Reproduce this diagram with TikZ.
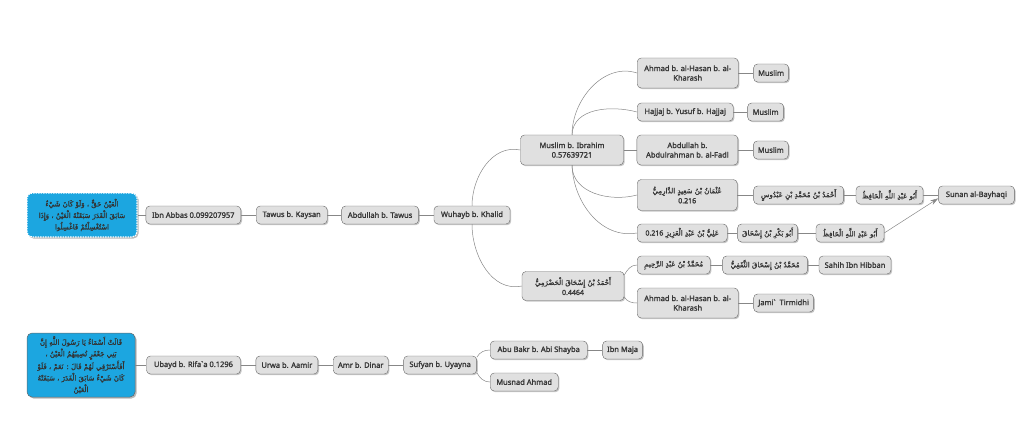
\documentclass[tikz,border=0pt]{standalone}
\usepackage{fontspec}
\setmainfont{Noto Sans}
\newfontfamily\labelfont{Noto Sans}[FakeBold=1.6]
\newfontfamily\arabicfont[Script=Arabic]{DejaVu Sans}
\newfontfamily\arabicbold[Script=Arabic,FakeBold=1.2]{DejaVu Sans}
\TeXXeTstate=1
\usetikzlibrary{positioning,shadows,arrows.meta}
\definecolor{nodefill}{RGB}{224,224,224}
\definecolor{nodeline}{RGB}{105,105,105}
\definecolor{nodetext}{RGB}{55,55,55}
\definecolor{hadithblue}{RGB}{28,166,224}
\definecolor{linkgray}{RGB}{135,135,135}
\newcommand{\artext}[1]{\beginR #1\endR}

\begin{document}
\begin{tikzpicture}[x=1pt, y=1pt,
    narrator/.style={draw=nodeline, fill=nodefill, rounded corners=4pt,
      text=nodetext, font=\fontsize{7.5}{9.5}\selectfont\labelfont,
      inner sep=2pt, minimum height=18pt, align=center,
      drop shadow={shadow xshift=1.2pt, shadow yshift=-1.2pt, fill=black!45}},
    arnarrator/.style={narrator, font=\fontsize{7}{10}\selectfont\arabicbold},
    matn/.style={fill=hadithblue, rounded corners=5pt, text=black!80,
      font=\fontsize{7}{11.5}\selectfont\arabicbold, inner sep=2pt, align=center,
      drop shadow={shadow xshift=1.5pt, shadow yshift=-1.5pt, fill=black!55}},
    link/.style={draw=linkgray, line width=0.5pt}]

  \useasboundingbox (0,0) rectangle (1024,-422);

  % first hadith
  \node[matn, draw=white, dash pattern=on 1.5pt off 1pt, line width=1.2pt,
    minimum width=110pt, minimum height=44pt] (matnA) at (82,-215)
    {\artext{الْعَيْنُ حَقٌّ ، وَلَوْ كَانَ شَيْءٌ}\\
     \artext{سَابَقَ الْقَدَرَ سَبَقَتْهُ الْعَيْنُ ، وَإِذَا}\\
     \artext{اسْتُغْسِلْتُمْ فَاغْسِلُوا}};
  \node[narrator, minimum width=95pt, right=8pt of matnA] (ibnabbas) {Ibn Abbas 0.099207957};
  \node[narrator, minimum width=71pt, right=15pt of ibnabbas] (tawus) {Tawus b. Kaysan};
  \node[narrator, minimum width=77pt, right=14pt of tawus] (abdtawus) {Abdullah b. Tawus};
  \node[narrator, minimum width=76pt, right=15pt of abdtawus] (wuhayb) {Wuhayb b. Khalid};

  \node[narrator, minimum width=103pt, minimum height=30pt] (muslimib) at (572,-150)
    {Muslim b. Ibrahim\\0.57639721};
  \node[arnarrator, minimum width=102pt, minimum height=29pt] (hadrami) at (573,-286)
    {\artext{أَحْمَدُ بْنُ إِسْحَاقَ الْحَضْرَمِيُّ}\\{\labelfont 0.4464}};

  % students of Muslim b. Ibrahim
  \node[narrator, minimum width=101pt, minimum height=30pt, anchor=west] (kharashA) at (637,-73)
    {Ahmad b. al-Hasan b. al-\\Kharash};
  \node[narrator, minimum width=35pt, right=15pt of kharashA] (muslimA) {Muslim};
  \node[narrator, minimum width=96pt, anchor=west] (hajjaj) at (637,-112) {Hajjaj b. Yusuf b. Hajjaj};
  \node[narrator, minimum width=36pt, right=14pt of hajjaj] (muslimB) {Muslim};
  \node[narrator, minimum width=101pt, minimum height=30pt, right=13pt of muslimib] (fadl)
    {Abdullah b.\\Abdulrahman b. al-Fadl};
  \node[narrator, minimum width=35pt, right=15pt of fadl] (muslimC) {Muslim};
  \node[arnarrator, minimum width=100pt, minimum height=31pt, anchor=west] (darimi) at (637,-195)
    {\artext{عُثْمَانُ بْنُ سَعِيدٍ الدَّارِمِيُّ}\\{\labelfont 0.216}};
  \node[arnarrator, minimum width=90pt, right=16pt of darimi] (abdus)
    {\artext{أَحْمَدُ بْنُ مُحَمَّدِ بْنِ عَبْدُوسٍ}};
  \node[arnarrator, minimum width=67pt, right=12pt of abdus] (hafizA)
    {\artext{أَبُو عَبْدِ اللَّهِ الْحَافِظُ}};
  \node[narrator, minimum width=76pt, right=15pt of hafizA] (bayhaqi) {Sunan al-Bayhaqi};
  \node[arnarrator, minimum width=90pt, anchor=west] (aliaziz) at (637,-233)
    {\artext{عَلِيُّ بْنُ عَبْدِ الْعَزِيزِ {\labelfont\beginL 0.216\endL}}};
  \node[arnarrator, minimum width=60pt, right=10pt of aliaziz] (abubakrA)
    {\artext{أَبُو بَكْرِ بْنُ إِسْحَاقَ}};
  \node[arnarrator, minimum width=68pt, right=18pt of abubakrA] (hafizB)
    {\artext{أَبُو عَبْدِ اللَّهِ الْحَافِظُ}};

  % students of al-Hadrami
  \node[arnarrator, minimum width=73pt, anchor=west] (rahim) at (637,-265)
    {\artext{مُحَمَّدُ بْنُ عَبْدِ الرَّحِيمِ}};
  \node[arnarrator, minimum width=85pt, right=12pt of rahim] (thaqafi)
    {\artext{مُحَمَّدُ بْنُ إِسْحَاقَ الثَّقَفِيُّ}};
  \node[narrator, minimum width=72pt, right=11pt of thaqafi] (hibban) {Sahih Ibn Hibban};
  \node[narrator, minimum width=101pt, minimum height=30pt, anchor=west] (kharashB) at (637,-303)
    {Ahmad b. al-Hasan b. al-\\Kharash};
  \node[narrator, minimum width=60pt, right=15pt of kharashB] (tirmidhi)
    {Jami\textasciigrave~~Tirmidhi};

  % second hadith
  \node[matn, draw=nodeline, line width=0.5pt, minimum width=108pt, minimum height=64pt]
    (matnB) at (81,-365)
    {\artext{قَالَتْ أَسْمَاءُ يَا رَسُولَ اللَّهِ إِنَّ}\\
     \artext{بَنِي جَعْفَرٍ تُصِيبُهُمُ الْعَيْنُ ،}\\
     \artext{أَفَأَسْتَرْقِي لَهُمْ قَالَ : نَعَمْ ، فَلَوْ}\\
     \artext{كَانَ شَيْءٌ سَابَقَ الْقَدَرَ ، سَبَقَتْهُ}\\
     \artext{الْعَيْنُ}};
  \node[narrator, minimum width=94pt, right=11pt of matnB] (ubayd)
    {Ubayd b. Rifa\textasciigrave a 0.1296};
  \node[narrator, minimum width=62pt, right=15pt of ubayd] (urwa) {Urwa b. Aamir};
  \node[narrator, minimum width=55pt, right=15pt of urwa] (amr) {Amr b. Dinar};
  \node[narrator, minimum width=73pt, right=15pt of amr] (sufyan) {Sufyan b. Uyayna};
  \node[narrator, minimum width=97pt, anchor=west] (shayba) at (490,-350) {Abu Bakr b. Abi Shayba};
  \node[narrator, minimum width=40pt, right=15pt of shayba] (ibnmaja) {Ibn Maja};
  \node[narrator, minimum width=68pt, anchor=west] (musnad) at (490,-382) {Musnad Ahmad};

  % links
  \draw[link] (matnA) -- (ibnabbas);
  \draw[link] (ibnabbas) -- (tawus);
  \draw[link] (tawus) -- (abdtawus);
  \draw[link] (abdtawus) -- (wuhayb);
  \draw[link] (wuhayb.north) to[out=90, in=168] (muslimib.west);
  \draw[link] (wuhayb.south) to[out=-90, in=192] (hadrami.west);
  \draw[link] (muslimib.north) to[out=90, in=162] (kharashA.west);
  \draw[link] (muslimib.north) to[out=88, in=165] (hajjaj.west);
  \draw[link] (muslimib) -- (fadl);
  \draw[link] (muslimib.south) to[out=-90, in=195] (darimi.west);
  \draw[link] (muslimib.south) to[out=-88, in=190] (aliaziz.west);
  \draw[link] (kharashA) -- (muslimA);
  \draw[link] (hajjaj) -- (muslimB);
  \draw[link] (fadl) -- (muslimC);
  \draw[link] (darimi) -- (abdus);
  \draw[link] (abdus) -- (hafizA);
  \draw[link] (hafizA) -- (bayhaqi);
  \draw[link] (aliaziz) -- (abubakrA);
  \draw[link] (abubakrA) -- (hafizB);
  \draw[link, -{Stealth[length=8pt, width=5pt]}] (hafizB.east) -- (bayhaqi.185);
  \draw[link] (hadrami.12) to[out=60, in=180] (rahim.west);
  \draw[link] (hadrami.-12) to[out=-60, in=180] (kharashB.west);
  \draw[link] (rahim) -- (thaqafi);
  \draw[link] (thaqafi) -- (hibban);
  \draw[link] (kharashB) -- (tirmidhi);
  \draw[link] (matnB) -- (ubayd);
  \draw[link] (ubayd) -- (urwa);
  \draw[link] (urwa) -- (amr);
  \draw[link] (amr) -- (sufyan);
  \draw[link] (sufyan.12) to[out=60, in=180] (shayba.west);
  \draw[link] (sufyan.-12) to[out=-60, in=180] (musnad.west);
  \draw[link] (shayba) -- (ibnmaja);
\end{tikzpicture}
\end{document}
